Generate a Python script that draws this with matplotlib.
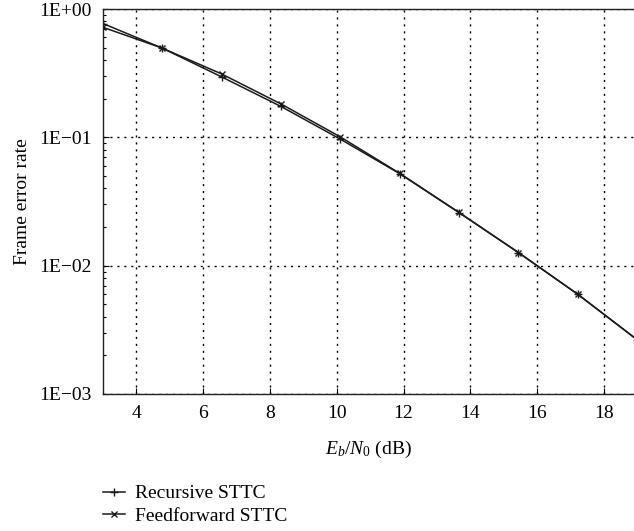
import matplotlib
matplotlib.use("Agg")
import matplotlib.pyplot as plt
from matplotlib.ticker import FixedLocator, LogLocator, NullFormatter, FuncFormatter

plt.rcParams['font.family'] = ['Liberation Serif', 'DejaVu Serif']
plt.rcParams['mathtext.fontset'] = 'custom'
plt.rcParams['mathtext.rm'] = 'Liberation Serif'
plt.rcParams['mathtext.it'] = 'Liberation Serif:italic'

# Data
ebno = [3.0, 4.77, 6.55, 8.33, 10.1, 11.88, 13.66, 15.44, 17.22, 19.0]
fer_recursive = [0.77, 0.496, 0.296, 0.174, 0.097, 0.0522, 0.0259, 0.01264, 0.00597, 0.00264]
fer_feedforward = [0.72, 0.496, 0.312, 0.182, 0.101, 0.0525, 0.0260, 0.01266, 0.00598, 0.00264]
x_ticks = [4, 6, 8, 10, 12, 14, 16, 18]
y_ticks = [1e-3, 1e-2, 1e-1, 1e0]
y_labels = ["1E\u221203", "1E\u221202", "1E\u221201", "1E+00"]

fig = plt.figure(figsize=(6.34, 5.31), dpi=100)
ax = fig.add_axes([103 / 634, 1 - 394 / 531, 1 - 103 / 634, 385 / 531])

lc = '#1a1a1a'
ax.plot(ebno, fer_recursive, color=lc, lw=1.1, marker='+', ms=6, mew=1.0,
        label='Recursive STTC')
ax.plot(ebno, fer_feedforward, color=lc, lw=1.1, marker='x', ms=5, mew=1.0,
        label='Feedforward STTC')

ax.set_yscale('log')
ax.set_xlim(3, 18.9)
ax.set_ylim(1e-3, 1)

ax.xaxis.set_major_locator(FixedLocator(x_ticks))
ax.yaxis.set_major_locator(FixedLocator(y_ticks))
ax.yaxis.set_major_formatter(FuncFormatter(lambda v, p: y_labels[y_ticks.index(v)] if v in y_ticks else ""))
ax.yaxis.set_minor_locator(LogLocator(base=10, subs=range(2, 10)))
ax.yaxis.set_minor_formatter(NullFormatter())

ax.grid(True, which='major', color='black', linestyle=(0, (1.5, 3.5)), linewidth=1.0)
ax.tick_params(axis='both', which='both', direction='in', labelsize=14, colors='black')
ax.tick_params(axis='both', which='major', length=4, width=0.8, pad=8)
ax.tick_params(axis='y', which='minor', length=2.5, width=0.8)
ax.spines['right'].set_visible(False)
for s in ['left', 'bottom', 'top']:
    ax.spines[s].set_linewidth(1.0)
    ax.spines[s].set_color('#222222')

ax.set_xlabel('$E_b/N_0$ (dB)', fontsize=14, labelpad=12)
ax.set_ylabel('Frame error rate', fontsize=14, labelpad=6)

fig.legend(loc='upper left', bbox_to_anchor=(95 / 634, 1 - 477 / 531),
           frameon=False, fontsize=14, handlelength=1.15, handletextpad=0.5,
           labelspacing=0.25, borderaxespad=0)

fig.savefig('out.png', dpi=100)
